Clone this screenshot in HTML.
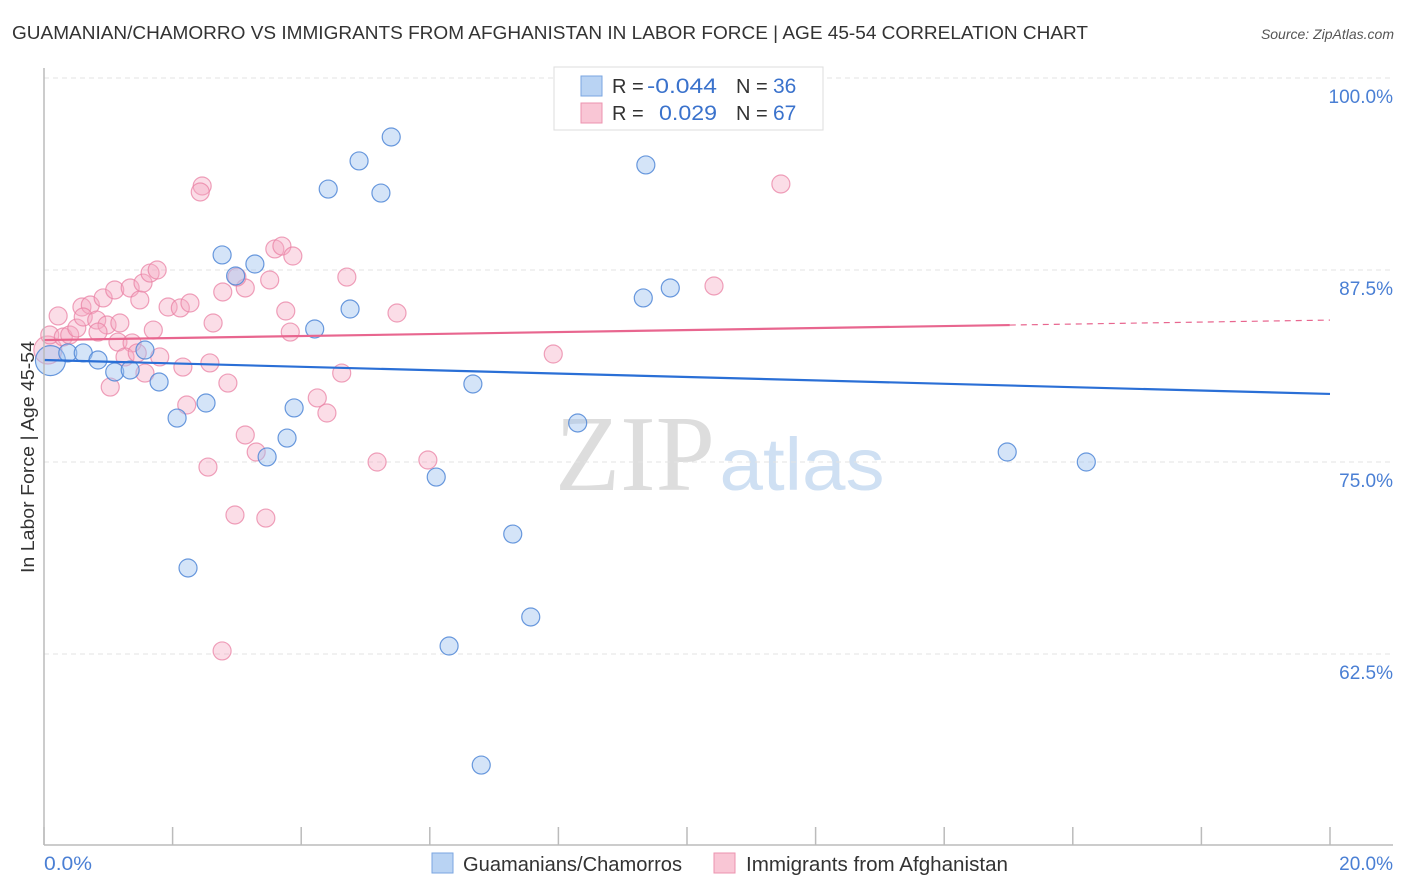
<!DOCTYPE html>
<html><head><meta charset="utf-8"><style>
body{margin:0;background:#fff;font-family:"Liberation Sans",sans-serif}
svg{display:block}
</style></head><body>
<svg id="c" width="1406" height="892" xmlns="http://www.w3.org/2000/svg">
<text x="12" y="39" font-size="18" fill="#333" textLength="1076" lengthAdjust="spacingAndGlyphs">GUAMANIAN/CHAMORRO VS IMMIGRANTS FROM AFGHANISTAN IN LABOR FORCE | AGE 45-54 CORRELATION CHART</text>
<text x="1394" y="39" font-size="14" fill="#555" font-style="italic" text-anchor="end">Source: ZipAtlas.com</text>
<text x="635" y="490" font-size="108" fill="#ddd" font-family="Liberation Serif" text-anchor="middle" textLength="160" lengthAdjust="spacingAndGlyphs">ZIP</text>
<text x="802" y="490" font-size="74" fill="#cfe0f3" text-anchor="middle" textLength="165" lengthAdjust="spacingAndGlyphs">atlas</text>
<text transform="translate(34,457) rotate(-90)" font-size="18" fill="#333" text-anchor="middle" textLength="232" lengthAdjust="spacingAndGlyphs">In Labor Force | Age 45-54</text>
<g id="grid"></g><g id="pts"></g><g id="lines"></g>
<line x1="44" y1="68" x2="44" y2="845" stroke="#bbb" stroke-width="1.5"/>
<line x1="44" y1="845" x2="1393" y2="845" stroke="#bbb" stroke-width="1.5"/>
<text x="44" y="870" font-size="19" fill="#4a7fd4" textLength="48" lengthAdjust="spacingAndGlyphs">0.0%</text>
<text x="1393" y="870" font-size="19" fill="#4a7fd4" text-anchor="end">20.0%</text>
<g>
<rect x="554" y="67" width="269" height="63" fill="#fff" stroke="#ddd"/>
<rect x="581" y="76" width="21" height="20" fill="#b9d3f3" stroke="#7aa6e0"/>
<rect x="581" y="103" width="21" height="20" fill="#f9c6d5" stroke="#ec93af"/>
<text x="612" y="93" font-size="20" fill="#333">R = </text><text x="647" y="93" font-size="21" fill="#3a72cc" textLength="70" lengthAdjust="spacingAndGlyphs">-0.044</text>
<text x="736" y="93" font-size="20" fill="#333">N = </text><text x="773" y="93" font-size="21" fill="#3a72cc">36</text>
<text x="612" y="120" font-size="20" fill="#333">R = </text><text x="659" y="120" font-size="21" fill="#3a72cc" textLength="58" lengthAdjust="spacingAndGlyphs">0.029</text>
<text x="736" y="120" font-size="20" fill="#333">N = </text><text x="773" y="120" font-size="21" fill="#3a72cc">67</text>
</g>
<g>
<rect x="432" y="853" width="21" height="20" fill="#b9d3f3" stroke="#7aa6e0"/>
<text x="463" y="871" font-size="20" fill="#333" textLength="219" lengthAdjust="spacingAndGlyphs">Guamanians/Chamorros</text>
<rect x="714" y="853" width="21" height="20" fill="#f9c6d5" stroke="#ec93af"/>
<text x="746" y="871" font-size="20" fill="#333" textLength="262" lengthAdjust="spacingAndGlyphs">Immigrants from Afghanistan</text>
</g>
</svg>
<script>
const yTicks=[100,87.5,75,62.5];
const yTickLabels=["100.0%","87.5%","75.0%","62.5%"];
const xTicks=[0,2,4,6,8,10,12,14,16,18,20];
const blueX=[0.1,10.82,5.40,4.90,4.42,5.24,9.36,2.77,3.28,2.98,9.32,9.74,4.76,4.21,1.57,0.37,0.61,0.84,1.10,1.34,1.79,6.67,2.52,3.89,2.07,8.30,3.78,3.47,14.98,16.21,6.10,7.29,2.24,7.57,6.30,6.80];
const blueY=[81.6,99.87,96.16,94.60,92.77,92.51,94.34,88.48,87.89,87.11,85.68,86.33,84.96,83.66,82.29,82.10,82.10,81.64,80.86,80.99,80.21,80.08,78.84,78.52,77.86,77.54,76.56,75.33,75.65,75.00,74.02,70.31,68.10,64.91,63.02,55.27];
const pinkX=[0.06,2.46,2.43,11.46,0.22,0.09,0.30,0.40,0.51,0.59,0.72,0.61,0.82,0.92,0.98,0.84,1.10,1.18,1.34,1.49,1.54,1.65,1.76,1.70,1.15,1.37,1.26,1.45,1.57,1.80,1.03,1.93,2.12,2.27,2.63,2.78,3.13,3.00,3.51,3.59,3.70,3.87,2.16,2.58,2.86,2.22,3.76,3.83,3.13,3.30,2.55,2.97,3.45,4.25,4.40,4.63,4.71,5.18,5.49,2.77,5.97,7.92,10.42];
const pinkY=[82.29,92.97,92.58,93.10,84.51,83.27,83.14,83.27,83.72,85.09,85.22,84.44,84.24,85.68,83.92,83.46,86.20,84.05,86.33,85.55,86.65,87.30,87.50,83.59,82.81,82.75,81.84,82.10,80.79,81.84,79.88,85.09,85.03,85.35,84.05,86.07,86.33,87.04,86.85,88.87,89.06,88.41,81.18,81.45,80.14,78.71,84.83,83.46,76.76,75.65,74.67,71.55,71.35,79.17,78.19,80.79,87.04,75.00,84.70,62.70,75.13,82.03,86.46];
const blueTrend=[81.64,79.43];
const pinkTrend=[82.94,84.24];
const pinkSolidEnd=15.02;
const NS="http://www.w3.org/2000/svg";
const X=v=>44+v*64.3, Y=v=>78+(100-v)*15.36;
function mk(tag,at,parent){const e=document.createElementNS(NS,tag);for(const k in at)e.setAttribute(k,at[k]);parent.appendChild(e);return e;}
const grid=document.getElementById('grid'),pts=document.getElementById('pts'),lines=document.getElementById('lines');
yTicks.forEach((t,i)=>{
 const l=mk('line',{x1:44,x2:1393,y1:Y(t),y2:Y(t),stroke:'#e3e3e3','stroke-dasharray':'5,4'},grid);
 
 
 const tx=mk('text',{x:1393,y:Y(t)+25,'font-size':19,fill:'#4a7fd4','text-anchor':'end'},grid);
 tx.textContent=yTickLabels[i];
 
 
});
xTicks.forEach(t=>{
 const l=mk('line',{x1:X(t),x2:X(t),y1:827,y2:845,stroke:'#bbb','stroke-width':1.5},grid);
 
 
});
pinkX.forEach((v,i)=>{
 const c=mk('circle',{cx:X(v),cy:Y(pinkY[i]),r:i===0?14:9,fill:'rgba(246,170,194,0.4)',stroke:'rgba(234,130,164,0.75)','stroke-width':1.2},pts);
 
 
});
blueX.forEach((v,i)=>{
 const c=mk('circle',{cx:X(v),cy:Y(blueY[i]),r:i===0?15:9,fill:'rgba(160,196,240,0.45)',stroke:'rgba(80,135,215,0.85)','stroke-width':1.2},pts);
 
 
});
const bl=mk('line',{x1:X(0),y1:Y(blueTrend[0]),x2:X(20),y2:Y(blueTrend[1]),stroke:'#2a6fd6','stroke-width':2.2},lines);


const pAt=x=>pinkTrend[0]+(pinkTrend[1]-pinkTrend[0])*x/20;
const pl=mk('line',{x1:X(0),y1:Y(pinkTrend[0]),x2:X(pinkSolidEnd),y2:Y(pAt(pinkSolidEnd)),stroke:'#e8668f','stroke-width':2.2},lines);


const pd=mk('line',{x1:X(pinkSolidEnd),y1:Y(pAt(pinkSolidEnd)),x2:X(20),y2:Y(pinkTrend[1]),stroke:'#e8668f','stroke-width':1.2,'stroke-dasharray':'6,5'},lines);


</script>
</body></html>
